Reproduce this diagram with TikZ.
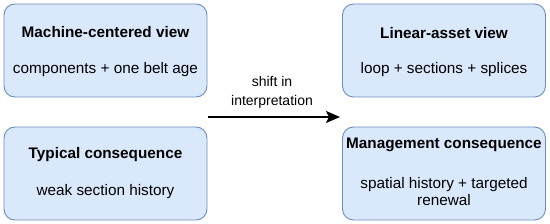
\documentclass[tikz,border=0pt]{standalone}
\usepackage{fontspec}
\setmainfont{Liberation Sans}
\usetikzlibrary{arrows.meta}
\definecolor{boxfill}{HTML}{DAE8FC}
\definecolor{boxline}{HTML}{6C8EBF}
\begin{document}
\begin{tikzpicture}[x=1pt,y=-1pt,
  card/.style={draw=boxline,fill=boxfill,line width=0.9pt,rounded corners=11pt,
    minimum width=203pt,minimum height=93pt,inner sep=0pt},
  ttl/.style={font=\fontsize{15.3}{17}\selectfont\bfseries,inner sep=0pt},
  sub/.style={font=\fontsize{15.3}{16.5}\selectfont,inner sep=0pt,align=center},
  lbl/.style={font=\fontsize{14}{18.5}\selectfont,inner sep=0pt,align=center},
  arr/.style={line width=1.5pt,-{Stealth[length=14pt,width=12pt,inset=3pt]}}]
\useasboundingbox (0,0) rectangle (550,224);
\node[card] (b1) at (105.5,50.5) {};
\node[card] (b2) at (105.5,173.5) {};
\node[card] (b3) at (444,50.5) {};
\node[card] (b4) at (444,173.5) {};
\node[ttl] (t1) at (105.5,32) {Machine-centered view};
\node[sub] (s1) at (105.5,70) {components + one belt age};
\node[ttl] (t2) at (105.5,155) {Typical consequence};
\node[sub] (s2) at (105.5,192) {weak section history};
\node[ttl] (t3) at (444,33) {Linear-asset view};
\node[sub] (s3) at (444,70) {loop + sections + splices};
\node[ttl] (t4) at (444,145) {Management consequence};
\node[sub] (s4) at (444,191.5) {spatial history + targeted\\renewal};
\coordinate (a1) at (208,117);
\coordinate (a2) at (340,117);
\draw[arr] (a1) -- (a2);
\node[lbl] (l1) at (272,92.5) {shift in\\interpretation};
\end{tikzpicture}
\end{document}
